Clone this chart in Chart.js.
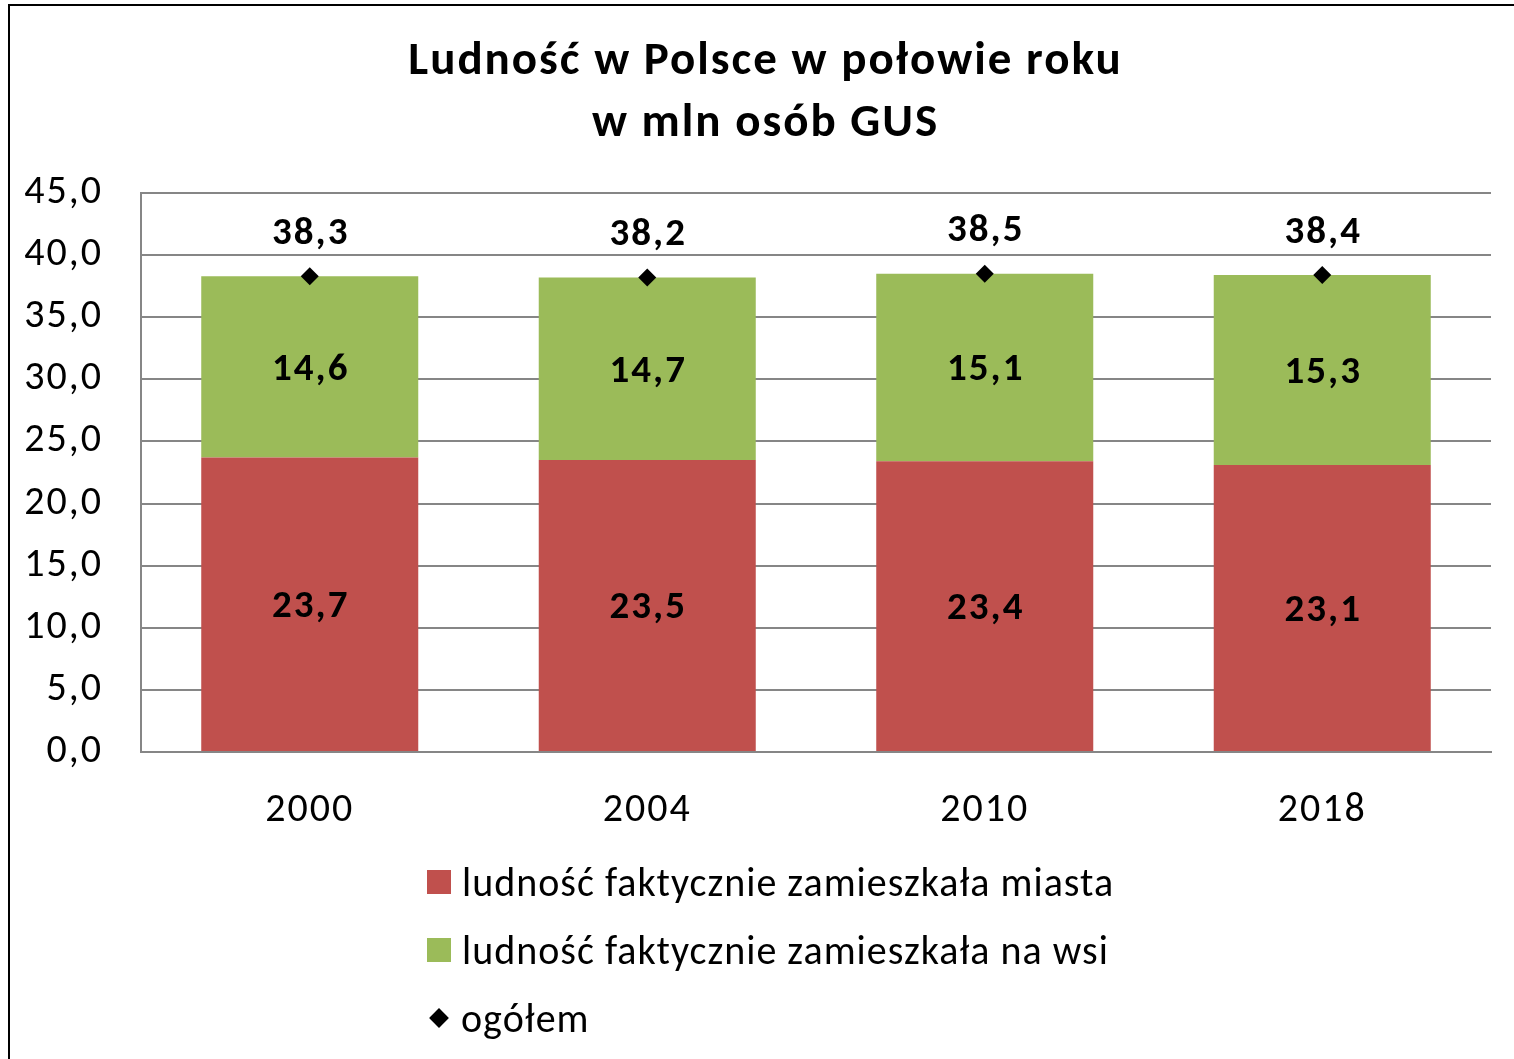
<!DOCTYPE html>
<html>
	<head>
		<meta charset="utf-8" />
		<title>Ludność w Polsce</title>
		<script src="https://cdn.jsdelivr.net/npm/chart.js@4.4.0/dist/chart.umd.min.js"></script>
		<style>
			body { margin: 0; background: #fff; font-family: Carlito, Lato, sans-serif; }
			#wrap { position: relative; width: 1514px; height: 1059px; overflow: hidden; }
			#frame { position: absolute; left: 8px; top: 4px; width: 1700px; height: 1200px; border: 2px solid #000; }
			#myChart { position: absolute; left: 0; top: 0; }
			#legend { position: absolute; left: 427px; top: 848px; font-size: 40px; letter-spacing: 1px; color: #000; }
			.item { height: 68px; display: flex; align-items: center; }
			.sw { width: 24px; height: 24px; margin-right: 11px; }
			.dia { width: 14px; height: 14px; background: #000; transform: rotate(45deg); margin: 0 15px 0 5px; }
		</style>
	</head>
	<body>
		<div id="wrap">
			<div id="frame"></div>
			<canvas id="myChart" width="1514" height="1059"></canvas>
			<div id="legend"></div>
		</div>
	<script>
		// data
		const years = ['2000', '2004', '2010', '2018'];
		const miasta = [23.7, 23.5, 23.4, 23.1];
		const wies = [14.6, 14.7, 15.1, 15.3];
		const ogolem = [38.3, 38.2, 38.5, 38.4];
		const seriesNames = ['ludność faktycznie zamieszkała miasta', 'ludność faktycznie zamieszkała na wsi', 'ogółem'];
		const titleLines = ['Ludność w Polsce w połowie roku', 'w mln osób GUS'];

		const fontFam = 'Carlito, Lato, sans-serif';
		const fmt = v => v.toFixed(1).replace('.', ',');

		// Lato is narrower than Calibri, so widen the canvas text a bit;
		// the title is centred on the frame, not on the canvas
		const tweaks = {
			id: 'tweaks',
			afterLayout(chart) { if (chart.titleBlock) chart.titleBlock.left = 40; },
			beforeDraw(chart) { chart.ctx.letterSpacing = '2px'; }
		};

		// draws the value labels (no datalabels plugin available offline)
		const valueLabels = {
			id: 'valueLabels',
			afterDatasetsDraw(chart) {
				const ctx = chart.ctx;
				ctx.save();
				ctx.font = 'bold 39px ' + fontFam;
				ctx.fillStyle = '#000';
				ctx.textAlign = 'center';
				ctx.textBaseline = 'middle';
				chart.data.datasets.forEach((ds, i) => {
					const meta = chart.getDatasetMeta(i);
					meta.data.forEach((el, j) => {
						if (ds.type === 'line') {
							ctx.fillText(fmt(ds.data[j]), el.x + 1, el.y - 42);
						} else {
							ctx.fillText(fmt(ds.data[j]), el.x + 1, (el.y + el.base) / 2 + 3);
						}
					});
				});
				ctx.restore();
			}
		};

		let myChart = document.getElementById('myChart').getContext('2d');
		new Chart(myChart, {
			type: 'bar',
			data: {
				labels: years,
				datasets: [
					{ label: seriesNames[0], data: miasta, backgroundColor: '#C0504D', stack: 'a', order: 2 },
					{ label: seriesNames[1], data: wies, backgroundColor: '#9BBB59', stack: 'a', order: 2 },
					{ type: 'line', label: seriesNames[2], data: ogolem, stack: 'total', showLine: false,
					  pointStyle: 'rectRot', pointRadius: 9, pointHoverRadius: 9,
					  backgroundColor: '#000', borderColor: '#000', borderWidth: 0, order: 1 }
				]
			},
			options: {
				responsive: false,
				animation: false,
				layout: { padding: { left: 0, right: 23, top: 0, bottom: 222 } },
				datasets: { bar: { categoryPercentage: 1, barPercentage: 0.643 } },
				plugins: {
					legend: { display: false },
					tooltip: { enabled: false },
					title: {
						display: true,
						text: titleLines,
						color: '#000',
						font: { family: fontFam, size: 47, weight: 'bold', lineHeight: 1.319 },
						padding: { top: 31, bottom: 38 }
					}
				},
				scales: {
					x: {
						stacked: true,
						afterFit(scale) { scale.height = 85; },
						grid: { display: false, drawTicks: false },
						border: { display: true, color: '#868686', width: 2 },
						ticks: { color: '#000', font: { family: fontFam, size: 40 }, padding: 35, maxRotation: 0 }
					},
					y: {
						stacked: true,
						min: 0, max: 45,
						afterFit(scale) { scale.width = 141; },
						grid: { color: '#868686', lineWidth: 2, drawTicks: false },
						border: { display: true, color: '#868686', width: 2 },
						ticks: { stepSize: 5, color: '#000', font: { family: fontFam, size: 40 }, padding: 38,
							callback: v => fmt(v) }
					}
				}
			},
			plugins: [tweaks, valueLabels]
		});

		// vertical legend like the Excel original
		const colors = ['#C0504D', '#9BBB59'];
		const legend = document.getElementById('legend');
		seriesNames.forEach((name, i) => {
			const row = document.createElement('div');
			row.className = 'item';
			const mark = document.createElement('div');
			if (i < 2) { mark.className = 'sw'; mark.style.background = colors[i]; }
			else { mark.className = 'dia'; }
			row.appendChild(mark);
			row.appendChild(document.createTextNode(name));
			legend.appendChild(row);
		});
	</script>
	</body>
</html>
